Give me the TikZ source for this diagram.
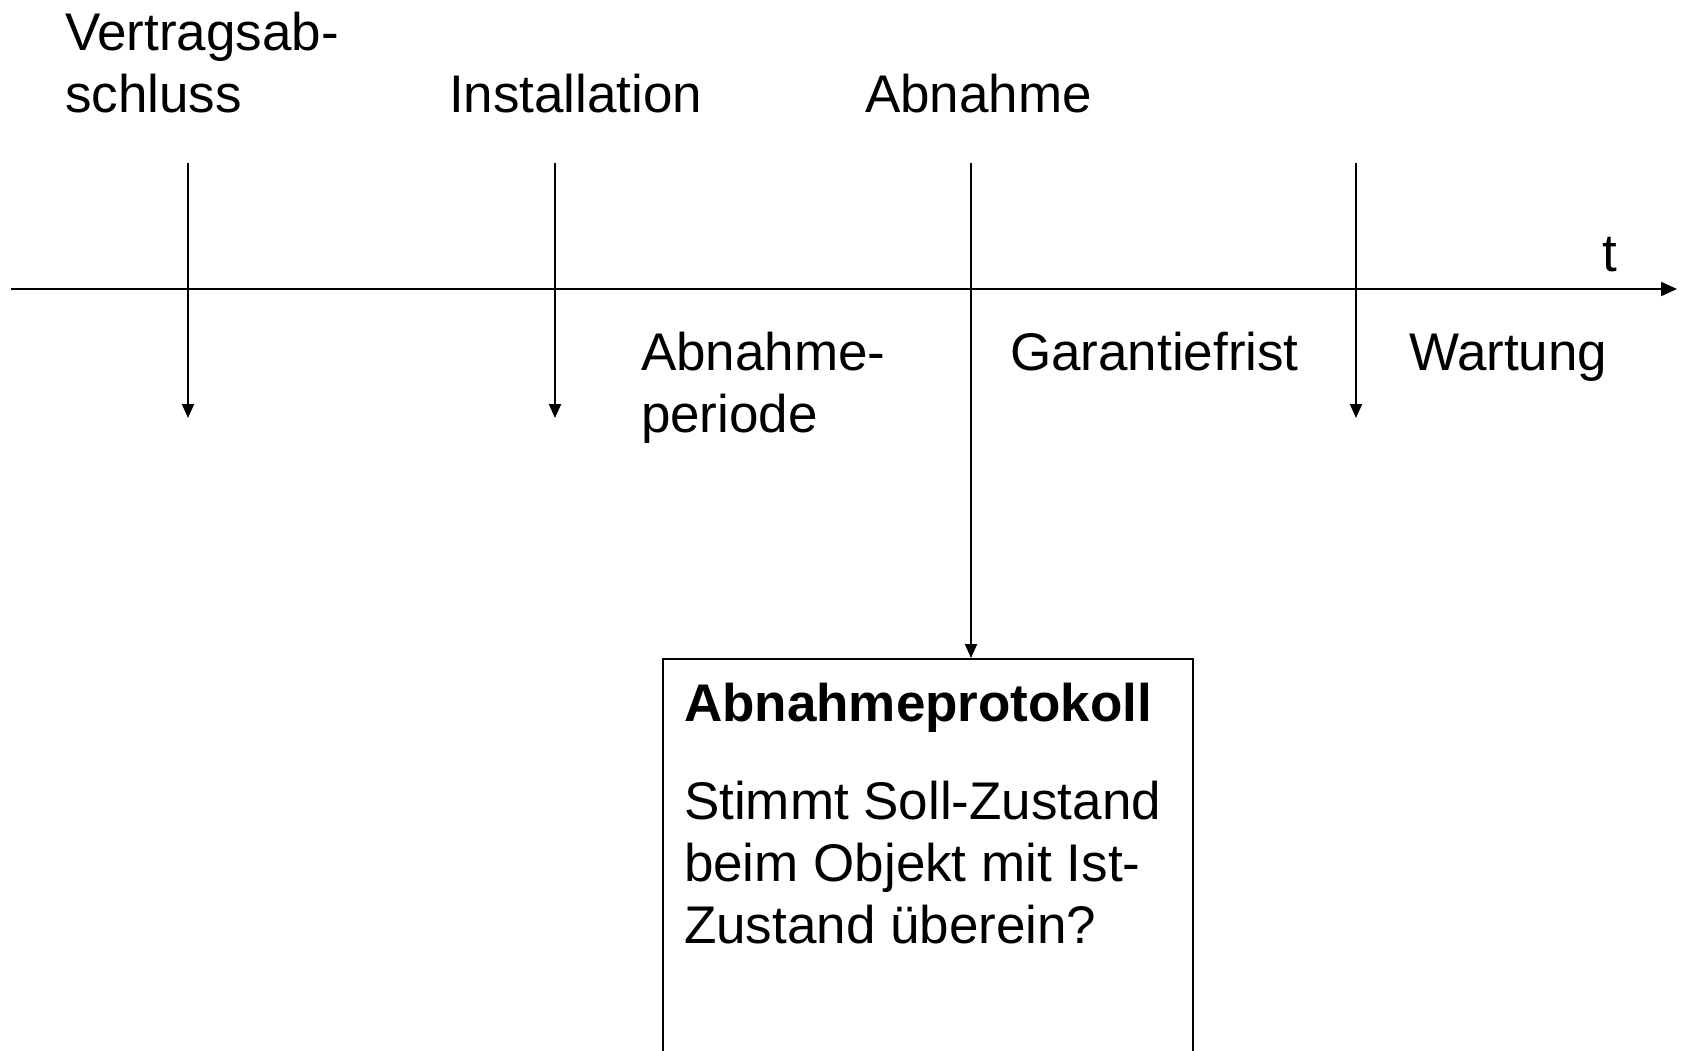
\documentclass[tikz,border=0pt]{standalone}
\usepackage{fontspec}
\setmainfont{Liberation Sans}
\usetikzlibrary{positioning,arrows.meta}

\begin{document}
\begin{tikzpicture}[x=1pt, y=-1pt, line width=2pt,
    lbl/.style={anchor=base west, inner sep=0pt, align=left, font=\fontsize{53}{62}\selectfont},
    tick/.style={-{Triangle[length=14pt,width=12pt]}}]
    \clip (0,0) rectangle (1681,1051);

    % time axis
    \coordinate (start) at (11,289);
    \coordinate (ende) at (1677,289);
    \draw[-{Triangle[length=16pt,width=14pt]}] (start) -- (ende);
    \node[lbl] (t) at (1601,271) {t};

    % events (base = last line)
    \node[lbl] (vertrag) at (64,113) {Vertragsab-\\schluss};
    \node[lbl] (install) at (448,113) {Installation};
    \node[lbl] (abnahme) at (864,113) {Abnahme};

    \foreach \x/\n in {188/vs, 555/inst, 1356/wart} {
        \coordinate (\n top) at (\x,163);
        \coordinate (\n end) at (\x,418);
        \draw[tick] (\n top) -- (\n end);
    }

    % periods
    \node[lbl] (periode) at (640,432) {Abnahme-\\periode};
    \node[lbl] (garantie) at (1009,370) {Garantiefrist};
    \node[lbl] (wartung) at (1408,370) {Wartung};

    % protocol
    \node[draw, anchor=north west, minimum width=530pt, minimum height=440pt] (protokoll) at (662,658) {};
    \node[lbl, font=\fontsize{53}{62}\selectfont\bfseries] (titel) at (683,721) {Abnahmeprotokoll};
    \node[lbl] (frage) at (683,943) {Stimmt Soll-Zustand\\beim Objekt mit Ist-\\Zustand überein?};

    \coordinate (abn top) at (971,163);
    \draw[tick] (abn top) -- (abn top |- protokoll.north);
\end{tikzpicture}
\end{document}
